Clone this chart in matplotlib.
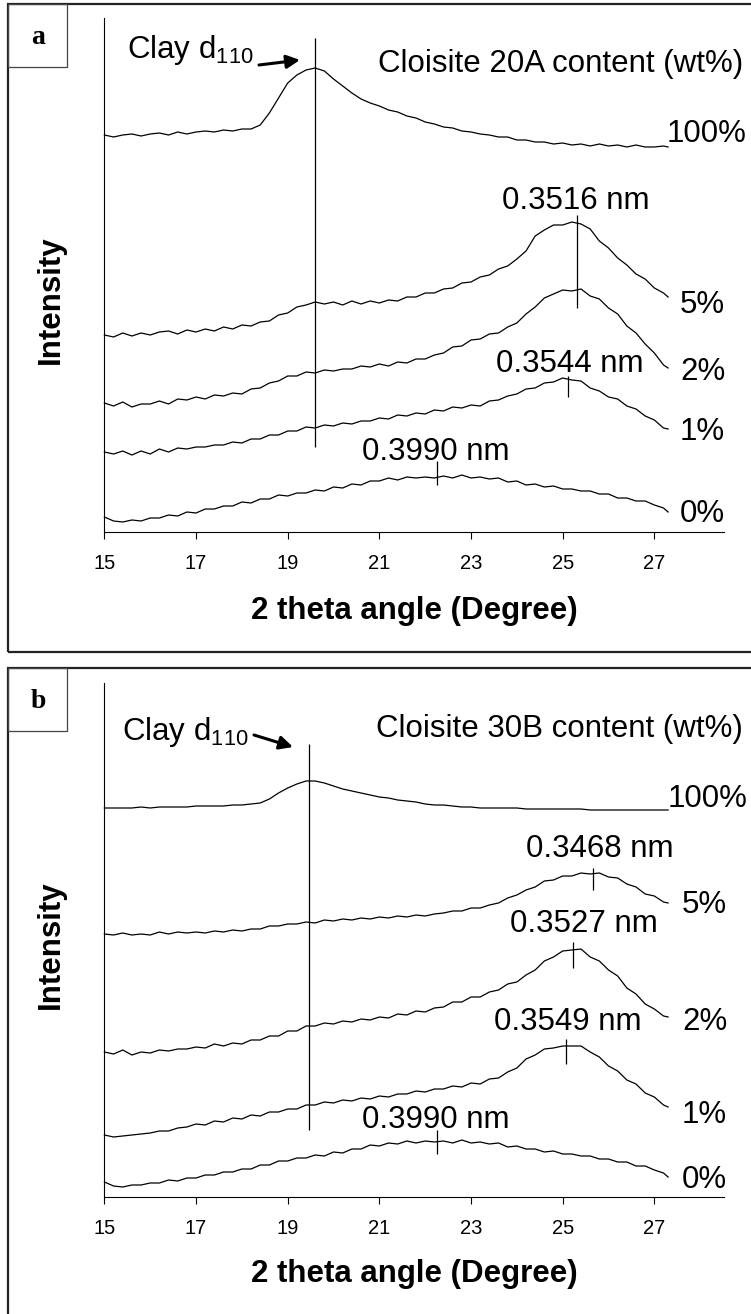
import numpy as np
import matplotlib
matplotlib.use("Agg")
import matplotlib.pyplot as plt
from matplotlib.patches import Rectangle, FancyArrowPatch

plt.rcParams["font.family"] = ["Liberation Sans", "DejaVu Sans"]
plt.rcParams["mathtext.fontset"] = "custom"
plt.rcParams["mathtext.rm"] = "Liberation Sans"

# ---------------------------------------------------------------- data
# scan positions (degrees 2 theta)
two_theta = np.round(np.r_[np.arange(15.0, 27.21, 0.2), 27.3], 2)

# stacked XRD intensities (a.u., curves offset for clarity) - Cloisite 20A
a_100 = [397, 395, 397, 398, 396, 398, 399, 397, 400, 398,
         400, 401, 400, 402, 401, 403, 403, 407, 419, 434,
         449, 457, 462, 464, 461, 453, 446, 439, 433, 429,
         426, 422, 420, 416, 414, 410, 408, 405, 404, 401,
         400, 398, 397, 395, 395, 392, 392, 390, 390, 388,
         389, 387, 388, 386, 388, 386, 387, 385, 387, 385,
         385, 386, 385]
a_5 = [197, 195, 199, 196, 199, 197, 200, 201, 198, 202,
       200, 203, 201, 205, 203, 207, 206, 210, 211, 217,
       219, 225, 227, 230, 228, 230, 227, 231, 228, 231,
       229, 232, 231, 235, 235, 239, 239, 243, 244, 249,
       250, 255, 257, 263, 266, 273, 281, 296, 302, 307,
       307, 310, 308, 303, 291, 284, 274, 267, 258, 253,
       244, 239, 235]
a_2 = [129, 126, 130, 125, 128, 128, 131, 128, 133, 132,
       135, 133, 137, 136, 139, 138, 143, 144, 149, 151,
       156, 156, 160, 159, 162, 161, 163, 163, 166, 165,
       168, 166, 170, 169, 173, 173, 177, 179, 185, 186,
       192, 193, 198, 199, 205, 209, 218, 225, 234, 238,
       242, 241, 243, 236, 233, 224, 218, 206, 199, 188,
       179, 167, 164]
a_1 = [80, 78, 81, 77, 81, 78, 83, 80, 84, 83,
       85, 85, 87, 87, 90, 89, 93, 93, 97, 97,
       101, 101, 105, 104, 107, 106, 109, 108, 111, 111,
       114, 113, 117, 116, 119, 118, 122, 121, 125, 124,
       127, 126, 131, 132, 136, 138, 143, 144, 149, 150,
       154, 152, 151, 144, 141, 135, 133, 126, 123, 116,
       112, 104, 103]
a_0 = [15, 11, 10, 12, 11, 14, 14, 17, 16, 20,
       19, 23, 23, 26, 26, 30, 29, 33, 33, 37,
       36, 39, 39, 42, 41, 45, 44, 48, 47, 51,
       51, 54, 52, 55, 54, 55, 54, 56, 54, 57,
       54, 55, 53, 54, 50, 51, 47, 48, 45, 46,
       43, 43, 41, 41, 38, 38, 34, 34, 31, 31,
       27, 24, 20]

# Cloisite 30B
b_100 = [389, 389, 389, 389, 390, 389, 390, 390, 390, 390,
         391, 391, 391, 391, 392, 392, 393, 394, 398, 404,
         409, 413, 416, 416, 414, 411, 408, 406, 404, 402,
         400, 399, 397, 396, 395, 393, 392, 392, 391, 390,
         390, 389, 389, 389, 389, 389, 388, 388, 388, 388,
         388, 388, 388, 387, 387, 387, 387, 387, 387, 387,
         387, 387, 387]
b_5 = [263, 262, 264, 262, 263, 262, 265, 263, 265, 264,
       265, 264, 266, 265, 267, 266, 268, 268, 271, 271,
       273, 273, 275, 274, 277, 276, 278, 277, 279, 278,
       280, 279, 281, 280, 282, 281, 283, 284, 286, 286,
       289, 289, 292, 294, 299, 302, 307, 310, 316, 317,
       321, 321, 324, 323, 324, 320, 319, 313, 310, 303,
       301, 295, 294]
b_2 = [145, 143, 147, 142, 145, 144, 147, 146, 148, 148,
       150, 149, 153, 151, 154, 153, 157, 157, 161, 161,
       166, 166, 171, 171, 174, 173, 176, 175, 178, 177,
       180, 179, 183, 182, 186, 185, 189, 190, 195, 195,
       200, 200, 205, 207, 213, 215, 222, 227, 236, 240,
       246, 247, 248, 240, 236, 227, 221, 209, 203, 193,
       188, 181, 180]
b_1 = [62, 60, 61, 62, 63, 64, 66, 66, 69, 70,
       73, 72, 76, 75, 79, 78, 82, 81, 85, 85,
       88, 88, 92, 92, 95, 94, 97, 96, 99, 98,
       101, 100, 103, 103, 106, 105, 108, 108, 111, 110,
       114, 113, 118, 119, 125, 129, 138, 142, 148, 149,
       151, 151, 151, 145, 140, 131, 126, 117, 113, 104,
       100, 92, 90]
b_0 = [15, 11, 10, 12, 12, 14, 14, 17, 16, 19,
       19, 22, 22, 25, 25, 28, 28, 32, 32, 36,
       36, 39, 39, 42, 41, 45, 44, 48, 48, 52,
       51, 54, 53, 56, 54, 56, 55, 56, 54, 57,
       54, 55, 53, 54, 50, 51, 48, 48, 45, 46,
       43, 43, 41, 41, 38, 38, 35, 35, 31, 31,
       27, 24, 20]

content_labels = ["100%", "5%", "2%", "1%", "0%"]

# clay d110 reflection position (degrees) and extent of the marker line
clay_d110_a, clay_d110_b = 19.6, 19.46
clay_line_a, clay_line_b = (85, 494), (67, 453)

# d-spacings of the polymer peaks (nm) and vertical extent of their markers
peaks_a_d = [0.3516, 0.3544, 0.3990]
peaks_a_span = [(224, 317), (135, 156), (47, 71)]
peaks_b_d = [0.3468, 0.3527, 0.3549, 0.3990]
peaks_b_span = [(307, 329), (229, 255), (133, 158), (43, 67)]

CU_KALPHA = 0.15406  # nm


def bragg_two_theta(d):
    return 2.0 * np.degrees(np.arcsin(CU_KALPHA / (2.0 * np.asarray(d))))


# ---------------------------------------------------------------- layout
W, H = 751, 1314
fig = plt.figure(figsize=(W / 100, H / 100), dpi=100)


def fx(px):
    return px / W


def fy(py):
    return 1 - py / H


FS = 22.5
TICK_FS = 14.5

panels = [
    dict(tag="a", top=4, bottom=652, axis_y=532, axis_top=18,
         series=[a_100, a_5, a_2, a_1, a_0],
         clay=clay_d110_a, clay_span=clay_line_a,
         peaks_d=peaks_a_d, peaks_span=peaks_a_span,
         clay_text=(127, 58), arrow=((259, 65), (300, 60)),
         title="Cloisite 20A content (wt%)", title_pos=(378, 72),
         pct_pos=[(667, 142), (680, 313), (680, 380), (680, 440), (680, 522)],
         nm_pos=[(576, 209), (570, 372), (436, 460)],
         ylab_y=300, xlab_y=619),
    dict(tag="b", top=668, bottom=1340, axis_y=1197, axis_top=683,
         series=[b_100, b_5, b_2, b_1, b_0],
         clay=clay_d110_b, clay_span=clay_line_b,
         peaks_d=peaks_b_d, peaks_span=peaks_b_span,
         clay_text=(122, 740), arrow=((254, 735), (293, 747)),
         title="Cloisite 30B content (wt%)", title_pos=(376, 737),
         pct_pos=[(668, 807), (682, 913), (682, 1030), (682, 1123), (682, 1188)],
         nm_pos=[(600, 857), (584, 932), (568, 1030), (436, 1128)],
         ylab_y=945, xlab_y=1282),
]

ax_left, ax_right = 104.4, 724.0

for p in panels:
    # framed panel with its letter box
    h = p["bottom"] - p["top"]
    fig.add_artist(Rectangle((fx(8), fy(p["bottom"])), fx(800), h / H,
                             transform=fig.transFigure, fill=False,
                             ec="#222222", lw=1.6, clip_on=False))
    fig.add_artist(Rectangle((fx(8), fy(p["top"] + 63)), fx(59), 63 / H,
                             transform=fig.transFigure, fill=False,
                             ec="#444444", lw=0.9))
    fig.text(fx(38), fy(p["top"] + 34), p["tag"], ha="center", va="center",
             fontsize=20, fontweight="bold", family="Liberation Serif")

    ax = fig.add_axes([fx(ax_left), fy(p["axis_y"]),
                       (ax_right - ax_left) / W,
                       (p["axis_y"] - p["axis_top"]) / H])
    ax.set_xlim(15, 28.52)
    ax.set_ylim(0, 514)
    for s in ("top", "right"):
        ax.spines[s].set_visible(False)
    for s in ("left", "bottom"):
        ax.spines[s].set_linewidth(0.8)
    ax.set_yticks([])
    ax.set_xticks([15, 17, 19, 21, 23, 25, 27])
    ax.tick_params(axis="x", direction="out", length=5, width=0.8,
                   pad=11, labelsize=TICK_FS)
    ax.patch.set_alpha(0)

    for ys in p["series"]:
        ax.plot(two_theta, ys, color="black", lw=0.9, clip_on=False)

    # clay d110 marker
    ax.vlines(p["clay"], *p["clay_span"], color="black", lw=0.9)
    # polymer peak markers from the d-spacings
    for d, span in zip(p["peaks_d"], p["peaks_span"]):
        ax.vlines(bragg_two_theta(d), *span, color="black", lw=0.9)

    # annotations
    fig.text(fx(p["clay_text"][0]), fy(p["clay_text"][1]),
             r"Clay d$_{\mathregular{110}}$", ha="left", va="baseline",
             fontsize=FS)
    (x0, y0), (x1, y1) = p["arrow"]
    fig.add_artist(FancyArrowPatch((fx(x0), fy(y0)), (fx(x1), fy(y1)),
                                   transform=fig.transFigure,
                                   arrowstyle="-|>", mutation_scale=20,
                                   lw=2.2, color="black",
                                   shrinkA=0, shrinkB=0))
    fig.text(fx(p["title_pos"][0]), fy(p["title_pos"][1]), p["title"],
             ha="left", va="baseline", fontsize=FS)
    for lab, (x, y) in zip(content_labels, p["pct_pos"]):
        fig.text(fx(x), fy(y), lab, ha="left", va="baseline", fontsize=FS)
    for d, (x, y) in zip(p["peaks_d"], p["nm_pos"]):
        fig.text(fx(x), fy(y), f"{d:.4f} nm", ha="center", va="baseline",
                 fontsize=FS)

    fig.text(fx(51), fy(p["ylab_y"]), "Intensity", rotation=90,
             ha="center", va="center", fontsize=FS, fontweight="bold")
    fig.text(fx(414), fy(p["xlab_y"]), "2 theta angle (Degree)",
             ha="center", va="baseline", fontsize=FS, fontweight="bold")

fig.savefig("out.png", dpi=100, facecolor="white")
